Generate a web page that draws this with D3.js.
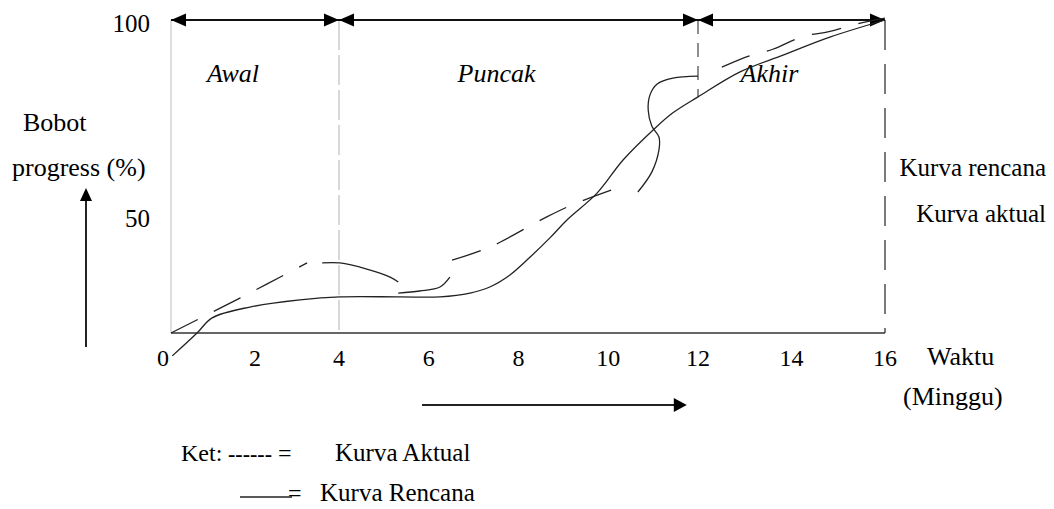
<!DOCTYPE html>
<html>
<head>
<meta charset="utf-8">
<script src="https://cdn.jsdelivr.net/npm/d3@7"></script>
<style>
  body { margin: 0; background: #fff; }
  text { font-family: "Liberation Serif", "Times New Roman", serif; fill: #000; }
</style>
</head>
<body>
<script>
/* global d3 */
var width  = 1054;
var height = 509;

// tick labels
var weekTicks = [0, 2, 4, 6, 8, 10, 12, 14, 16];
var pctTicks  = [50, 100];

// phases of the project
var phaseNames  = ['Awal', 'Puncak', 'Akhir'];
var phaseStart  = [0, 4, 12];
var phaseEnd    = [4, 12, 16];

// plan curve (Kurva Rencana)
var planWeek = [0.03, 0.62, 0.98, 1.88, 3.07, 4.02, 5.36, 6.25, 6.92, 7.36, 7.81, 8.26, 8.70, 9.08, 9.75, 10.33, 11.0, 11.44, 12.0, 12.9, 13.82, 14.82, 16];
var planPct  = [-9.7, 0, 6.4, 11, 14, 15.3, 15.3, 15.3, 16.9, 19.5, 24.6, 32.2, 40.3, 47.9, 55.6, 64.1, 71.8, 76.2, 80.3, 86.7, 91, 95.6, 100];

// actual curve (Kurva Aktual), drawn piece by piece
var actualRiseWeek  = [0, 1.64, 3.24];
var actualRisePct   = [0, 14.8, 29.7];
var actualBumpWeek  = [3.6, 4.02, 4.62, 5.14, 5.32];
var actualBumpPct   = [29.7, 29.7, 27.1, 23.7, 21.6];
var actualDipWeek   = [5.32, 5.8, 6.25, 6.47];
var actualDipPct    = [16.9, 17.8, 19.5, 23.7];
var actualClimbWeek = [6.52, 7.36, 8.63, 9.3, 10.26];
var actualClimbPct  = [30.9, 36.4, 49.2, 53.1, 57.2];
var actualLoopWeek  = [10.66, 10.97, 11.13, 11.13, 10.97, 10.89, 10.93, 11.09, 11.44, 12.0];
var actualLoopPct   = [55.9, 61.0, 66.7, 70.0, 72.8, 76.9, 80.8, 83.6, 85.1, 85.6];
var actualEndWeek   = [12.51, 13.1, 13.6, 14.25, 14.8, 15.4, 16];
var actualEndPct    = [87.9, 90.8, 92.5, 95.8, 97, 99, 100.5];

var x = d3.scaleLinear().domain([0, 4, 12, 16]).range([171, 339, 698, 885]);
var y = d3.scaleLinear().domain([0, 50, 100]).range([333, 215, 20]);

var svg = d3.select('body')
.append('svg')
.attr('width', width)
.attr('height', height)
.attr('viewBox', [0, 0, width, height].join(' '));

function zip(ws, ps) {
  return ws.map(function(w, i) { return [w, ps[i]]; });
}

var line = d3.line()
.x(function(d) { return x(d[0]); })
.y(function(d) { return y(d[1]); })
.curve(d3.curveCatmullRom.alpha(0.5));

function triangle(tipX, tipY, dir, len, half) {
  // dir: 'left', 'right', 'up'
  var p;
  if (dir === 'left') {
    p = [[tipX, tipY], [tipX + len, tipY - half], [tipX + len, tipY + half]];
  } else if (dir === 'right') {
    p = [[tipX, tipY], [tipX - len, tipY - half], [tipX - len, tipY + half]];
  } else {
    p = [[tipX, tipY], [tipX - half, tipY + len], [tipX + half, tipY + len]];
  }
  return 'M' + p.join('L') + 'Z';
}

// vertical guides
svg.append('line')
.attr('x1', x(0)).attr('x2', x(0))
.attr('y1', y(100)).attr('y2', y(0))
.attr('stroke', '#bdbdbd').attr('stroke-width', 1);

svg.append('line')
.attr('x1', x(4)).attr('x2', x(4))
.attr('y1', y(100)).attr('y2', y(0))
.attr('stroke', '#b0b0b0').attr('stroke-width', 1)
.attr('stroke-dasharray', '30,5');

svg.append('line')
.attr('x1', x(12)).attr('x2', x(12))
.attr('y1', y(100)).attr('y2', y(80.3))
.attr('stroke', '#444').attr('stroke-width', 1.2)
.attr('stroke-dasharray', '14,9');

svg.append('line')
.attr('x1', x(16)).attr('x2', x(16))
.attr('y1', y(100)).attr('y2', y(0))
.attr('stroke', '#333').attr('stroke-width', 1.3)
.attr('stroke-dasharray', '30,14');

// x axis line
svg.append('line')
.attr('x1', x(0)).attr('x2', x(16))
.attr('y1', y(0)).attr('y2', y(0))
.attr('stroke', '#333').attr('stroke-width', 1.5);

// phase arrows on top
svg.append('line')
.attr('x1', x(0)).attr('x2', x(16))
.attr('y1', y(100)).attr('y2', y(100))
.attr('stroke', '#111').attr('stroke-width', 2);

phaseNames.forEach(function(name, i) {
  svg.append('path')
  .attr('d', triangle(x(phaseStart[i]), y(100), 'left', 15, 6.5))
  .attr('fill', '#000');
  svg.append('path')
  .attr('d', triangle(x(phaseEnd[i]), y(100), 'right', 15, 6.5))
  .attr('fill', '#000');
  svg.append('text')
  .attr('x', x((phaseStart[i] + phaseEnd[i]) / 2) - 22)
  .attr('y', 82)
  .attr('text-anchor', 'middle')
  .attr('font-style', 'italic')
  .attr('font-size', 26)
  .text(name);
});

// curves
svg.append('path')
.attr('d', line(zip(planWeek, planPct)))
.attr('fill', 'none').attr('stroke', '#222').attr('stroke-width', 1.3);

var dashedPieces = [zip(actualRiseWeek, actualRisePct), zip(actualClimbWeek, actualClimbPct), zip(actualEndWeek, actualEndPct)];
var solidPieces  = [zip(actualBumpWeek, actualBumpPct), zip(actualDipWeek, actualDipPct), zip(actualLoopWeek, actualLoopPct)];

svg.selectAll('.actual-dash')
.data(dashedPieces)
.enter().append('path')
.attr('class', 'actual-dash')
.attr('d', line)
.attr('fill', 'none').attr('stroke', '#222').attr('stroke-width', 1.3)
.attr('stroke-dasharray', '30,18');

svg.selectAll('.actual-solid')
.data(solidPieces)
.enter().append('path')
.attr('class', 'actual-solid')
.attr('d', line)
.attr('fill', 'none').attr('stroke', '#222').attr('stroke-width', 1.3);

// tick labels
svg.selectAll('.xtick')
.data(weekTicks)
.enter().append('text')
.attr('class', 'xtick')
.attr('x', function(d) { return x(d) - (d === 0 ? 8 : 0); })
.attr('y', 366)
.attr('text-anchor', 'middle')
.attr('font-size', 24)
.text(function(d) { return d; });

svg.selectAll('.ytick')
.data(pctTicks)
.enter().append('text')
.attr('class', 'ytick')
.attr('x', 150)
.attr('y', function(d) { return y(d) + 12; })
.attr('text-anchor', 'end')
.attr('font-size', 25)
.text(function(d) { return d; });

// axis titles
svg.append('text').attr('x', 23).attr('y', 131).attr('font-size', 26).text('Bobot');
svg.append('text').attr('x', 12).attr('y', 176).attr('font-size', 26).text('progress (%)');
svg.append('line')
.attr('x1', 86).attr('x2', 86).attr('y1', 347).attr('y2', 198)
.attr('stroke', '#222').attr('stroke-width', 2);
svg.append('path').attr('d', triangle(86, 188, 'up', 13, 6)).attr('fill', '#000');

svg.append('text').attr('x', 927).attr('y', 365).attr('font-size', 26).text('Waktu');
svg.append('text').attr('x', 903).attr('y', 405).attr('font-size', 26).text('(Minggu)');

svg.append('line')
.attr('x1', x(5.85)).attr('x2', x(11.5))
.attr('y1', 405).attr('y2', 405)
.attr('stroke', '#222').attr('stroke-width', 2);
svg.append('path').attr('d', triangle(x(11.75), 405, 'right', 13, 7)).attr('fill', '#000');

// right side notes
svg.append('text').attr('x', 1046).attr('y', 176).attr('text-anchor', 'end').attr('font-size', 25).text('Kurva rencana');
svg.append('text').attr('x', 1046).attr('y', 222).attr('text-anchor', 'end').attr('font-size', 25).text('Kurva aktual');

// legend
svg.append('text').attr('x', 181).attr('y', 461).attr('font-size', 24).text('Ket:');
svg.append('text').attr('x', 228).attr('y', 461).attr('font-size', 22).attr('font-weight', 'bold').text('------');
svg.append('text').attr('x', 278).attr('y', 461).attr('font-size', 24).text('=');
svg.append('text').attr('x', 335).attr('y', 461).attr('font-size', 25).text('Kurva Aktual');

svg.append('line')
.attr('x1', 240).attr('x2', 292).attr('y1', 497).attr('y2', 497)
.attr('stroke', '#222').attr('stroke-width', 1.3);
svg.append('text').attr('x', 288).attr('y', 501).attr('font-size', 24).text('=');
svg.append('text').attr('x', 320).attr('y', 501).attr('font-size', 25).text('Kurva Rencana');
</script>
</body>
</html>
